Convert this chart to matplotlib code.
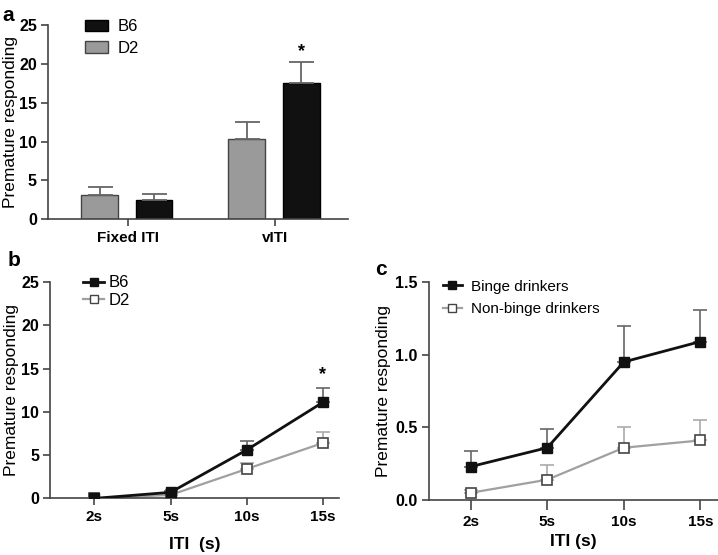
import numpy as np
import matplotlib.pyplot as plt
from matplotlib.patches import Patch
from matplotlib.lines import Line2D

plt.rcParams['font.family'] = ['Liberation Sans', 'DejaVu Sans']

# panel a
groups = ["Fixed ITI", "vITI"]
d2_bar = [3.1, 10.3]
d2_bar_err = [1.0, 2.2]
b6_bar = [2.5, 17.5]
b6_bar_err = [0.7, 2.7]

# panel b
iti_labels = ["2s", "5s", "10s", "15s"]
b6_line = [0.0, 0.7, 5.6, 11.1]
b6_line_err = [0.1, 0.2, 1.0, 1.6]
d2_line = [0.0, 0.4, 3.4, 6.4]
d2_line_err = [0.1, 0.2, 0.7, 1.3]

# panel c
binge = [0.23, 0.36, 0.95, 1.09]
binge_err = [0.11, 0.13, 0.25, 0.22]
nonbinge = [0.05, 0.14, 0.36, 0.41]
nonbinge_err = [0.02, 0.10, 0.14, 0.14]

black = "#111111"
gray = "#9a9a9a"
linegray = "#a0a0a0"
errgray = "#666666"

fig = plt.figure(figsize=(7.18, 5.55), dpi=100)


def style_axes(ax, ysize=11.5):
    ax.spines['top'].set_visible(False)
    ax.spines['right'].set_visible(False)
    for s in ['left', 'bottom']:
        ax.spines[s].set_color("#444444")
        ax.spines[s].set_linewidth(1.2)
    ax.tick_params(axis='x', labelsize=11, width=1.2, length=5, color="#444444")
    ax.tick_params(axis='y', labelsize=ysize, width=1.2, length=5, pad=3, color="#444444")
    for lab in ax.get_xticklabels() + ax.get_yticklabels():
        lab.set_fontweight('bold')


# ---- a ----
axa = fig.add_axes([0.067, 0.605, 0.418, 0.35])
x = np.arange(len(groups))
w = 0.25
ekw = dict(ecolor=errgray, capsize=9, elinewidth=1.3, capthick=1.3)
axa.bar(x - 0.19, d2_bar, w, color=gray, edgecolor="#444444", linewidth=1.0,
        yerr=[np.zeros(2), d2_bar_err], error_kw=ekw)
axa.bar(x + 0.18, b6_bar, w, color=black, edgecolor="#000000", linewidth=1.0,
        yerr=[np.zeros(2), b6_bar_err], error_kw=ekw)
axa.text(1 + 0.18, b6_bar[1] + b6_bar_err[1] + 0.3, "*", ha='center', va='bottom', fontsize=13, fontweight='bold')
axa.set_xlim(-0.54, 1.5)
axa.set_ylim(0, 25)
axa.set_yticks([0, 5, 10, 15, 20, 25])
axa.set_xticks(x)
axa.set_xticklabels(groups)
axa.set_ylabel("Premature responding", fontsize=12.5)
axa.yaxis.set_label_coords(-0.1, 0.5)
style_axes(axa, 11.5)
handles = [Patch(facecolor=black, edgecolor="#000000", label="B6"),
           Patch(facecolor=gray, edgecolor="#444444", label="D2")]
axa.legend(handles=handles, loc='upper left', bbox_to_anchor=(0.123, 1.03), frameon=False,
           borderpad=0, borderaxespad=0, fontsize=12, handlelength=1.4, handleheight=0.65,
           labelspacing=0.4, handletextpad=0.55)
fig.text(0.003, 0.99, "a", fontsize=15, fontweight='bold', va='top')

# ---- b ----
axb = fig.add_axes([0.07, 0.102, 0.402, 0.39])
xs = np.arange(len(iti_labels))
axb.errorbar(xs, d2_line, yerr=[np.zeros(4), d2_line_err], color=linegray, ecolor="#aaaaaa",
             marker='s', markersize=7.5, markerfacecolor='white', markeredgecolor="#444444",
             markeredgewidth=1.2, linewidth=1.6, capsize=5, elinewidth=1.2, capthick=1.2, zorder=2)
axb.errorbar(xs, b6_line, yerr=[np.zeros(4), b6_line_err], color=black, ecolor=errgray,
             marker='s', markersize=7.5, markerfacecolor=black, markeredgecolor=black,
             linewidth=2.0, capsize=5, elinewidth=1.2, capthick=1.2, zorder=3)
axb.text(3, b6_line[3] + b6_line_err[3] + 0.6, "*", ha='center', va='bottom', fontsize=13, fontweight='bold')
axb.set_xlim(-0.58, 3.21)
axb.set_ylim(0, 25)
axb.set_yticks([0, 5, 10, 15, 20, 25])
axb.set_xticks(xs)
axb.set_xticklabels(iti_labels)
axb.set_ylabel("Premature responding", fontsize=12.5)
axb.yaxis.set_label_coords(-0.11, 0.5)
axb.set_xlabel("ITI  (s)", fontsize=12.5, fontweight='bold', labelpad=9)
style_axes(axb, 11.5)
hb = [Line2D([], [], color=black, marker='s', markersize=6, linewidth=2.0, label="B6"),
      Line2D([], [], color=linegray, marker='s', markersize=6, markerfacecolor='white',
             markeredgecolor="#444444", linewidth=1.6, label="D2")]
axb.legend(handles=hb, loc='upper left', bbox_to_anchor=(0.114, 1.03), frameon=False,
           borderpad=0, borderaxespad=0, fontsize=12, handlelength=1.25,
           labelspacing=0.15, handletextpad=0.3)
fig.text(0.01, 0.547, "b", fontsize=15, fontweight='bold', va='top')

# ---- c ----
axc = fig.add_axes([0.597, 0.099, 0.403, 0.393])
axc.errorbar(xs, nonbinge, yerr=[np.zeros(4), nonbinge_err], color=linegray, ecolor="#aaaaaa",
             marker='s', markersize=7.5, markerfacecolor='white', markeredgecolor="#444444",
             markeredgewidth=1.2, linewidth=1.6, capsize=5, elinewidth=1.2, capthick=1.2, zorder=2)
axc.errorbar(xs, binge, yerr=[np.zeros(4), binge_err], color=black, ecolor=errgray,
             marker='s', markersize=7.5, markerfacecolor=black, markeredgecolor=black,
             linewidth=2.0, capsize=5, elinewidth=1.2, capthick=1.2, zorder=3)
axc.set_xlim(-0.55, 3.23)
axc.set_ylim(0, 1.5)
axc.set_yticks([0.0, 0.5, 1.0, 1.5])
axc.set_yticklabels(["0.0", "0.5", "1.0", "1.5"])
axc.set_xticks(xs)
axc.set_xticklabels(iti_labels)
axc.set_ylabel("Premature responding", fontsize=12.5)
axc.yaxis.set_label_coords(-0.13, 0.5)
axc.set_xlabel("ITI (s)", fontsize=12.5, fontweight='bold', labelpad=4)
style_axes(axc, 11.5)
axc.tick_params(axis='x', length=7)
hc = [Line2D([], [], color=black, marker='s', markersize=6, linewidth=2.0, label="Binge drinkers"),
      Line2D([], [], color=linegray, marker='s', markersize=6, markerfacecolor='white',
             markeredgecolor="#444444", linewidth=1.6, label="Non-binge drinkers")]
axc.legend(handles=hc, loc='upper left', bbox_to_anchor=(0.048, 1.01), frameon=False,
           borderpad=0, borderaxespad=0, fontsize=11, handlelength=1.25,
           labelspacing=0.55, handletextpad=0.6)
fig.text(0.522, 0.532, "c", fontsize=15, fontweight='bold', va='top')

fig.savefig("out.png", dpi=100)
